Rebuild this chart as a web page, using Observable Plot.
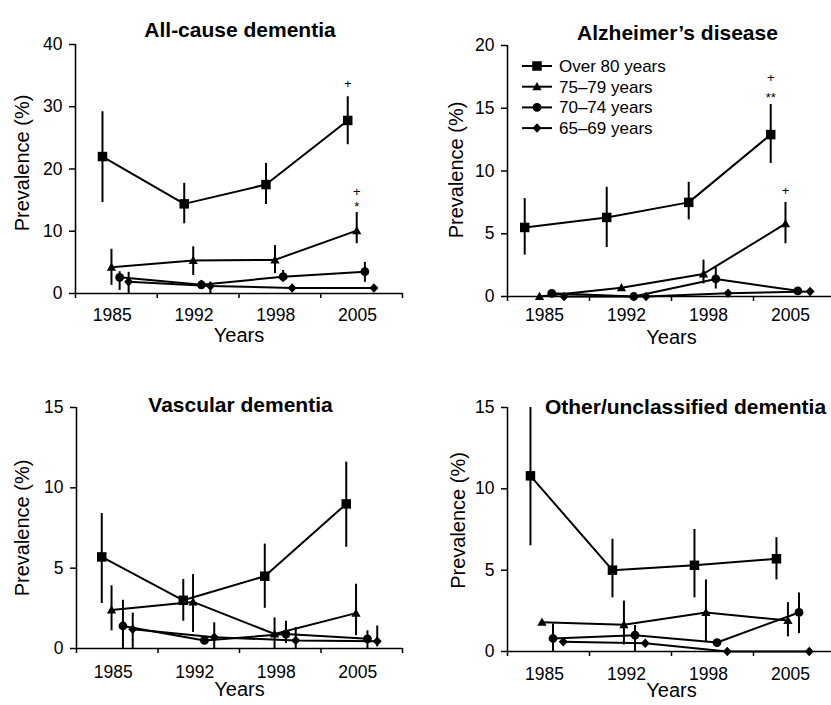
<!DOCTYPE html>
<html><head><meta charset="utf-8">
<script src="https://cdn.jsdelivr.net/npm/d3@7"></script>
<script src="https://cdn.jsdelivr.net/npm/@observablehq/plot@0.6"></script>
<style>
html,body{margin:0;padding:0;background:#fff;overflow:hidden;}
#root{position:relative;width:831px;height:705px;overflow:hidden;background:#fff;font-family:"Liberation Sans",Arial,Helvetica,sans-serif;}
.panel{position:absolute;}
#root svg g[aria-label*="axis"] text{font-size:17.5px !important;}
#legend{position:absolute;left:0;top:0;pointer-events:none;}
</style></head>
<body><div id="root"></div>
<script>
// ---------------- data ----------------
const years = ["1985", "1992", "1998", "2005"];
const series = ["Over 80 years", "75–79 years", "70–74 years", "65–69 years"];
const titles = ["All-cause dementia", "Alzheimer’s disease", "Vascular dementia", "Other/unclassified dementia"];
const xLabel = "Years";
const yLabel = "Prevalence (%)";

const allCauseTicks = [0, 10, 20, 30, 40];
const alzTicks = [0, 5, 10, 15, 20];
const vascTicks = [0, 5, 10, 15];
const otherTicks = [0, 5, 10, 15];

// rows: series (Over 80, 75-79, 70-74, 65-69); columns: years
const allCauseValue = [[22.0, 14.4, 17.5, 27.8], [4.2, 5.3, 5.4, 10.1], [2.6, 1.4, 2.7, 3.5], [1.9, 1.2, 0.9, 0.9]];
const allCauseLow   = [[14.6, 11.2, 14.3, 23.9], [1.3, 2.9, 3.2, 8.0], [0.5, 0.8, 1.8, 1.8], [0, 0, 0.5, 0.5]];
const allCauseHigh  = [[29.2, 17.7, 20.9, 31.6], [7.1, 7.5, 7.7, 13.0], [3.5, 2.1, 3.7, 5.0], [3.4, 1.8, 1.3, 1.3]];

const alzValue = [[5.5, 6.3, 7.5, 12.9], [0, 0.7, 1.8, 5.8], [0.25, 0, 1.4, 0.45], [0, 0, 0.25, 0.4]];
const alzLow   = [[3.3, 3.9, 6.1, 10.6], [null, null, 1.0, 4.2], [null, null, 0.6, null], [null, null, null, null]];
const alzHigh  = [[7.8, 8.7, 9.1, 15.3], [null, null, 2.9, 7.5], [null, null, 2.3, null], [null, null, null, null]];

const vascValue = [[5.7, 3.0, 4.5, 9.0], [2.4, 2.9, 0.9, 2.2], [1.4, 0.5, 0.9, 0.6], [1.2, 0.7, 0.5, 0.45]];
const vascLow   = [[2.8, 1.7, 2.5, 6.3], [1.1, 1.0, 0, 0.8], [0, null, 0.3, 0], [0, 0, 0, 0.1]];
const vascHigh  = [[8.4, 4.3, 6.5, 11.6], [3.9, 4.6, 1.9, 4.0], [3.0, null, 1.7, 1.1], [2.2, 1.6, 1.3, 1.4]];

const otherValue = [[10.8, 5.0, 5.3, 5.7], [1.8, 1.65, 2.4, 1.9], [0.8, 1.0, 0.55, 2.4], [0.6, 0.5, 0, 0]];
const otherLow   = [[6.5, 3.3, 3.3, 4.4], [null, 0.4, 0.6, 0.9], [0, 0, null, 1.1], [null, null, null, null]];
const otherHigh  = [[15.0, 6.9, 7.5, 7.0], [null, 3.1, 4.4, 3.0], [1.7, 1.6, null, 3.6], [null, null, null, null]];

// significance markers: series index, year index, height (% units), label
const allCauseSig = [{s: 0, g: 3, y: 33.7, t: "+"}, {s: 1, g: 3, y: 16.4, t: "+"}, {s: 1, g: 3, y: 14.0, t: "*"}];
const alzSig = [{s: 0, g: 3, y: 17.4, t: "+"}, {s: 0, g: 3, y: 15.8, t: "**"}, {s: 1, g: 3, y: 8.4, t: "+"}];
const vascSig = [];
const otherSig = [];

// ---------------- symbols ----------------
const symSquare = {draw(ctx, size) { const r = Math.sqrt(size / Math.PI), h = r * 0.95; ctx.rect(-h, -h, 2 * h, 2 * h); }};
const symTriangle = {draw(ctx, size) { const r = Math.sqrt(size / Math.PI); ctx.moveTo(0, -r * 0.95); ctx.lineTo(r * 0.92, r * 0.7); ctx.lineTo(-r * 0.92, r * 0.7); ctx.closePath(); }};
const symCircle = {draw(ctx, size) { const r = Math.sqrt(size / Math.PI) * 0.88; ctx.moveTo(r, 0); ctx.arc(0, 0, r, 0, 2 * Math.PI); }};
const symDiamond = {draw(ctx, size) { const r = Math.sqrt(size / Math.PI); ctx.moveTo(0, -r * 0.95); ctx.lineTo(r * 0.9, 0); ctx.lineTo(0, r * 0.95); ctx.lineTo(-r * 0.9, 0); ctx.closePath(); }};
const symbols = [symSquare, symTriangle, symCircle, symDiamond];

// ---------------- layout ----------------
const font = "'Liberation Sans', Arial, Helvetica, sans-serif";
const panels = [
  {title: titles[0], value: allCauseValue, low: allCauseLow, high: allCauseHigh, sig: allCauseSig, ticks: allCauseTicks,
   left: 0, top: 0, width: 415, height: 360, mL: 75, mR: 13, mT: 44, mB: 67,
   offsets: [0.33, 0.44, 0.54, 0.65], xPad: 15, titleDx: 1, titleDy: -22, yearsDy: 48, ylabDx: -53, ylabDy: -6},
  {title: titles[1], value: alzValue, low: alzLow, high: alzHigh, sig: alzSig, ticks: alzTicks,
   left: 415, top: 0, width: 420, height: 360, mL: 92, mR: 0, mT: 45, mB: 64,
   offsets: [0.21, 0.39, 0.54, 0.69], xPad: 12, titleDx: 6, titleDy: -20, yearsDy: 47, ylabDx: -51, ylabDy: -1},
  {title: titles[2], value: vascValue, low: vascLow, high: vascHigh, sig: vascSig, ticks: vascTicks,
   left: 0, top: 340, width: 415, height: 365, mL: 76, mR: 13, mT: 67, mB: 57,
   offsets: [0.31, 0.43, 0.57, 0.69], xPad: 17, titleDx: 1, titleDy: -10, yearsDy: 47, ylabDx: -54, ylabDy: 0},
  {title: titles[3], value: otherValue, low: otherLow, high: otherHigh, sig: otherSig, ticks: otherTicks,
   left: 415, top: 340, width: 420, height: 365, mL: 92, mR: 0, mT: 67, mB: 54,
   offsets: [0.28, 0.42, 0.555, 0.68], xPad: 16, titleDx: 14, titleDy: -8, yearsDy: 45, ylabDx: -49, ylabDy: -9}
];

const root = document.getElementById("root");

function buildPanel(p) {
  const yMax = p.ticks[p.ticks.length - 1];
  const rows = [];
  p.value.forEach((vals, s) => vals.forEach((v, g) => rows.push({s, g, x: g + p.offsets[s], v, lo: p.low[s][g], hi: p.high[s][g]})));
  const sigRows = p.sig.map(d => ({...d, x: d.g + p.offsets[d.s]}));
  const bounds = d3.range(years.length + 1);
  const centers = years.map((_, i) => i + 0.45);
  const marks = [
    Plot.ruleY([0], {x1: 0, x2: years.length, strokeWidth: 1.6}),
    Plot.ruleX([0], {y1: 0, y2: yMax, strokeWidth: 1.6}),
    Plot.axisY({ticks: p.ticks, tickSize: 6, tickPadding: 7, strokeWidth: 1.5, fontSize: 17.5, label: null}),
    Plot.axisX({ticks: bounds, tickFormat: () => "", tickSize: 5, strokeWidth: 1.5, label: null}),
    Plot.axisX({ticks: centers, tickFormat: (d, i) => years[i], tickSize: 0, tickPadding: p.xPad, fontSize: 17.5, label: null}),
    Plot.ruleX(rows.filter(d => d.lo != null && d.hi != null), {x: "x", y1: "lo", y2: "hi", strokeWidth: 2}),
    Plot.line(rows, {x: "x", y: "v", z: "s", stroke: "black", strokeWidth: 2}),
    ...symbols.map((sym, s) => Plot.dot(rows.filter(d => d.s === s), {x: "x", y: "v", r: 5, symbol: sym, fill: "black", stroke: "none"})),
    Plot.text(sigRows, {x: "x", y: "y", text: "t", fontSize: 13}),
    Plot.text([p.title], {text: d => d, frameAnchor: "top", dx: p.titleDx, dy: p.titleDy, fontSize: 21, fontWeight: "bold"}),
    Plot.text([xLabel], {text: d => d, frameAnchor: "bottom", dy: p.yearsDy, fontSize: 20}),
    Plot.text([yLabel], {text: d => d, frameAnchor: "left", textAnchor: "middle", rotate: -90, dx: p.ylabDx, dy: p.ylabDy, fontSize: 20})
  ];
  const svg = Plot.plot({
    width: p.width, height: p.height,
    marginLeft: p.mL, marginRight: p.mR, marginTop: p.mT, marginBottom: p.mB,
    x: {domain: [0, years.length], label: null},
    y: {domain: [0, yMax], label: null},
    style: {fontFamily: font, fontSize: "17px", color: "black", background: "transparent", overflow: "visible"},
    marks
  });
  svg.classList.add("panel");
  svg.style.left = p.left + "px";
  svg.style.top = p.top + "px";
  svg.style.position = "absolute";
  root.appendChild(svg);
}
panels.forEach(buildPanel);

// ---------------- legend (inside Alzheimer's panel) ----------------
const legend = d3.select(root).append("svg").attr("id", "legend").attr("width", 831).attr("height", 705);
const lg = legend.append("g").attr("transform", "translate(522,66)").attr("font-family", font).attr("font-size", 17);
series.forEach((name, i) => {
  const row = lg.append("g").attr("transform", `translate(0,${i * 20.7})`);
  row.append("line").attr("x1", 0).attr("x2", 30).attr("stroke", "black").attr("stroke-width", 2);
  row.append("path").attr("transform", "translate(15,0)").attr("d", d3.symbol(symbols[i], Math.PI * 25)()).attr("fill", "black");
  row.append("text").attr("x", 37).attr("dy", "0.35em").text(name);
});
</script>
</body></html>
